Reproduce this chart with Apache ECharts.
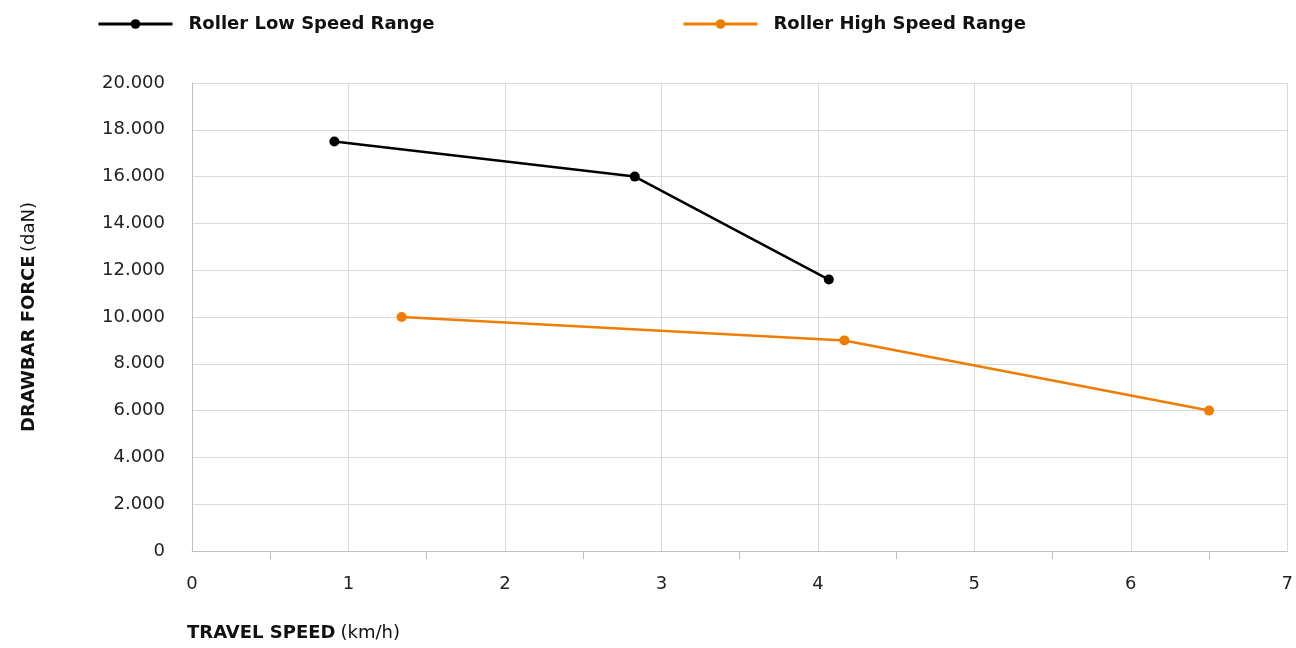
<!DOCTYPE html>
<html>
<head>
<meta charset="utf-8">
<script src="https://cdn.jsdelivr.net/npm/echarts@6/dist/echarts.min.js"></script>
<style>
  html, body { margin: 0; padding: 0; background: #fff; }
  #chart { width: 1296px; height: 648px; }
</style>
</head>
<body>
<div id="chart"></div>
<script>
// data
const lowSpeed = [[0.91, 17500], [2.83, 16000], [4.07, 11600]];
const highSpeed = [[1.34, 10000], [4.17, 9000], [6.5, 6000]];
const seriesNames = ["Roller Low Speed Range", "Roller High Speed Range"];
const seriesColors = ["#000000", "#ee7d00"];

const FONT = "DejaVu Sans";

var myChart = echarts.init(document.getElementById("chart"));

function legendAt(left, name) {
  return {
    data: [name],
    left: left,
    top: 10,
    itemWidth: 74,
    itemHeight: 12,
    lineStyle: { width: 3 },
    textStyle: {
      fontFamily: FONT,
      fontSize: 18,
      fontWeight: "bold",
      color: "#111",
      padding: [0, 0, 0, 11],
    },
  };
}

const nameRich = {
  b: { fontFamily: FONT, fontSize: 18, fontWeight: "bold", color: "#111" },
  n: { fontFamily: FONT, fontSize: 18, fontWeight: "normal", color: "#111" },
};

myChart.setOption({
  animation: false,
  legend: [legendAt(92, seriesNames[0]), legendAt(677, seriesNames[1])],
  title: {
    //x轴名称
    text: "{b|TRAVEL SPEED} {n|(km/h)}",
    left: 182,
    top: 619,
    textStyle: { rich: nameRich },
  },
  grid: { left: 192, right: 5, top: 83, bottom: 97 },
  xAxis: {
    type: "value",
    min: 0,
    max: 7,
    interval: 1,
    axisLine: { lineStyle: { color: "#bfbfbf" } },
    axisTick: { show: false },
    minorTick: { show: true, splitNumber: 2, length: 8, lineStyle: { color: "#bfbfbf" } },
    splitLine: { show: true, lineStyle: { color: "#d9d9d9" } },
    axisLabel: { margin: 24, fontFamily: FONT, fontSize: 18, color: "#222" },
  },
  yAxis: {
    type: "value",
    min: 0,
    max: 20000,
    interval: 2000,
    name: "{b|DRAWBAR FORCE} {n|(daN)}",
    nameLocation: "middle",
    nameRotate: 90,
    nameGap: 154,
    nameTextStyle: { rich: nameRich },
    axisLine: { show: true, lineStyle: { color: "#bfbfbf" } },
    axisTick: { show: false },
    splitLine: { show: true, lineStyle: { color: "#d9d9d9" } },
    axisLabel: {
      margin: 27,
      fontFamily: FONT,
      fontSize: 18,
      color: "#222",
      formatter: (v) => String(v).replace(/\B(?=(\d{3})+(?!\d))/g, "."),
    },
  },
  series: [
    {
      name: seriesNames[0],
      type: "line",
      data: lowSpeed,
      color: seriesColors[0],
      symbol: "circle",
      symbolSize: 10,
      lineStyle: { width: 2.5 },
    },
    {
      name: seriesNames[1],
      type: "line",
      data: highSpeed,
      color: seriesColors[1],
      symbol: "circle",
      symbolSize: 10,
      lineStyle: { width: 2.5 },
    },
  ],
});
</script>
</body>
</html>
